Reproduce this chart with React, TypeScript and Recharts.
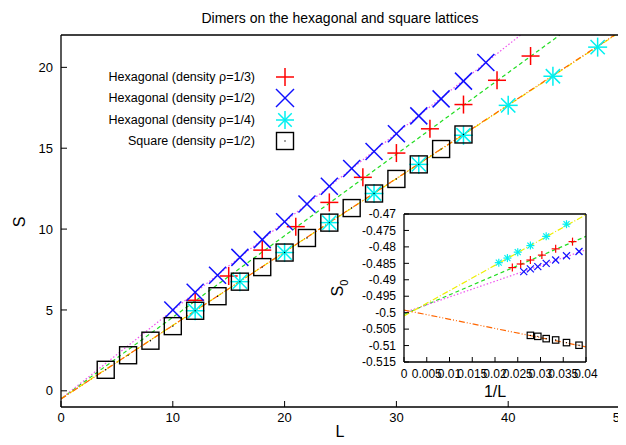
import React from 'react';
import { ComposedChart, Scatter, Line, XAxis, YAxis, Legend } from 'recharts';

const FONT = '"Liberation Sans", Arial, Helvetica, sans-serif';

// ---------- main plot data (L, S) ----------
const hexThirdL = [12, 15, 18, 21, 24, 27, 30, 33, 36, 39, 42];
const hexThirdS = [5.6, 7.1, 8.7, 10.15, 11.65, 13.2, 14.7, 16.2, 17.7, 19.2, 20.7];
const hexHalfL = [10, 12, 14, 16, 18, 20, 22, 24, 26, 28, 30, 32, 34, 36, 38];
const hexHalfS = [5.0, 6.1, 7.15, 8.25, 9.35, 10.45, 11.55, 12.65, 13.75, 14.8, 15.9, 17.0, 18.05, 19.15, 20.3];
const hexQuarterL = [12, 16, 20, 24, 28, 32, 36, 40, 44, 48];
const hexQuarterS = [4.95, 6.75, 8.55, 10.4, 12.2, 14.0, 15.8, 17.65, 19.45, 21.25];
const squareL = [4, 6, 8, 10, 12, 14, 16, 18, 20, 22, 24, 26, 28, 30, 32, 34, 36];
const squareS = [1.3, 2.2, 3.1, 4.0, 4.95, 5.85, 6.75, 7.65, 8.55, 9.45, 10.4, 11.3, 12.2, 13.1, 14.0, 14.95, 15.85];

// ---------- inset data (L, S0), plotted against 1/L ----------
const insetQuarterL = [48, 44, 40, 36, 32, 28];
const insetQuarterS0 = [-0.4848, -0.4834, -0.4816, -0.4796, -0.4768, -0.4731];
const insetThirdL = [42, 39, 36, 33, 30, 27];
const insetThirdS0 = [-0.4863, -0.4852, -0.484, -0.4825, -0.4806, -0.4784];
const insetHalfL = [38, 36, 34, 32, 30, 28, 26];
const insetHalfS0 = [-0.4875, -0.4867, -0.486, -0.485, -0.484, -0.4827, -0.4814];
const insetSquareL = [36, 34, 32, 30, 28, 26];
const insetSquareS0 = [-0.5069, -0.5072, -0.5079, -0.5083, -0.5091, -0.5099];

// ---------- fits: order = [hex 1/3, hex 1/2, hex 1/4, square] ----------
const mainFitSlope = [0.504, 0.547, 0.4535, 0.4545];
const mainFitIntercept = [-0.49, -0.49, -0.49, -0.505];
const insetFitSlope = [0.5925, 0.4775, 0.77, -0.28];
const insetFitIntercept = [-0.5005, -0.5, -0.501, -0.4992];
const fitColors = ['#22dd22', '#ee55ee', '#eeee00', '#ff6600'];
const fitDashes = ['4 3', '1.5 2', '6 2 1 2', '6 2 1 2 1 2'];

// ---------- axes ----------
const mainXDomain = [0, 50];
const mainYDomain = [-1, 22];
const mainXTicks = [0, 10, 20, 30, 40, 50];
const mainYTicks = [0, 5, 10, 15, 20];
const insetXDomain = [0, 0.04];
const insetYDomain = [-0.515, -0.47];
const insetXTicks = [0, 0.005, 0.01, 0.015, 0.02, 0.025, 0.03, 0.035, 0.04];
const insetYTicks = [-0.515, -0.51, -0.505, -0.5, -0.495, -0.49, -0.485, -0.48, -0.475, -0.47];

const legendLabels = [
  'Hexagonal (density \u03c1=1/3)',
  'Hexagonal (density \u03c1=1/2)',
  'Hexagonal (density \u03c1=1/4)',
  'Square (density \u03c1=1/2)',
];

const pts = (xs: number[], ys: number[]) => xs.map((x, i) => ({ x, y: ys[i] }));
const invPts = (Ls: number[], ys: number[]) => Ls.map((L, i) => ({ x: 1 / L, y: ys[i] }));

const mainFitData = mainFitSlope.map((a, i) => {
  const b = mainFitIntercept[i];
  const xEnd = Math.min(mainXDomain[1], (mainYDomain[1] - b) / a);
  return [{ x: 0, y: b }, { x: xEnd, y: a * xEnd + b }];
});
const insetFitData = insetFitSlope.map((a, i) => {
  const b = insetFitIntercept[i];
  return insetXDomain.map((x) => ({ x, y: a * x + b }));
});

// ---------- markers ----------
const Plus = ({ cx, cy, r, color, w = 1.5 }: any) => (
  <g>
    <line x1={cx - r} y1={cy} x2={cx + r} y2={cy} stroke={color} strokeWidth={w} />
    <line x1={cx} y1={cy - r} x2={cx} y2={cy + r} stroke={color} strokeWidth={w} />
  </g>
);
const Cross = ({ cx, cy, r, color, w = 1.5 }: any) => (
  <g>
    <line x1={cx - r} y1={cy - r} x2={cx + r} y2={cy + r} stroke={color} strokeWidth={w} />
    <line x1={cx - r} y1={cy + r} x2={cx + r} y2={cy - r} stroke={color} strokeWidth={w} />
  </g>
);
const Star = ({ cx, cy, r, color, w = 1.5 }: any) => (
  <g>
    <Plus cx={cx} cy={cy} r={r} color={color} w={w} />
    <Cross cx={cx} cy={cy} r={r * 0.75} color={color} w={w} />
  </g>
);
const Box = ({ cx, cy, r, w = 1.4 }: any) => (
  <g>
    <rect x={cx - r} y={cy - r} width={2 * r} height={2 * r} fill="none" stroke="#000" strokeWidth={w} />
    <circle cx={cx} cy={cy} r={0.7} fill="#000" />
  </g>
);

const markerFns = [
  (cx: number, cy: number, r: number, w?: number) => <Plus cx={cx} cy={cy} r={r} color="#ff0000" w={w} />,
  (cx: number, cy: number, r: number, w?: number) => <Cross cx={cx} cy={cy} r={r} color="#1010ff" w={w} />,
  (cx: number, cy: number, r: number, w?: number) => <Star cx={cx} cy={cy} r={r} color="#00f0f0" w={w} />,
  (cx: number, cy: number, r: number, w?: number) => <Box cx={cx} cy={cy} r={r} w={w} />,
];

const LegendBox = () => (
  <div style={{ fontFamily: FONT, fontSize: 12.5, color: '#000' }}>
    {legendLabels.map((lab, i) => (
      <div key={i} style={{ display: 'flex', alignItems: 'center', height: 21.5 }}>
        <div style={{ width: 167, textAlign: 'right', whiteSpace: 'nowrap' }}>{lab}</div>
        <div style={{ width: 60, display: 'flex', justifyContent: 'center' }}>
          <svg width={24} height={22} style={{ display: 'block' }}>
            {markerFns[i](12, 11, i === 3 ? 8.5 : 9)}
          </svg>
        </div>
      </div>
    ))}
  </div>
);

const tickStyle = { fontFamily: FONT, fontSize: 13, fill: '#000' };
const insetTickStyle = { fontFamily: FONT, fontSize: 12, fill: '#000' };
const fmt = (v: number) => String(Number(v.toFixed(3)));

const mainSeries = [
  pts(hexThirdL, hexThirdS),
  pts(hexHalfL, hexHalfS),
  pts(hexQuarterL, hexQuarterS),
  pts(squareL, squareS),
];
const mainSizes = [9, 8.5, 9.5, 8.5];
const insetSeries = [
  invPts(insetThirdL, insetThirdS0),
  invPts(insetHalfL, insetHalfS0),
  invPts(insetQuarterL, insetQuarterS0),
  invPts(insetSquareL, insetSquareS0),
];
const insetSizes = [4, 3.5, 4, 3.2];

const abs = (left: number, top: number, extra: any = {}) => ({
  position: 'absolute' as const,
  left,
  top,
  fontFamily: FONT,
  color: '#000',
  whiteSpace: 'nowrap' as const,
  lineHeight: 1,
  ...extra,
});

const frameLine = { stroke: '#000', strokeWidth: 1.3 };
const tickLine = { stroke: '#000' };

export default function App() {
  return (
    <div style={{ position: 'relative', width: 618, height: 437 }}>
      <ComposedChart width={618} height={437} margin={{ top: 26, right: 5, bottom: 0, left: 0 }}>
        <XAxis
          type="number"
          dataKey="x"
          domain={mainXDomain}
          ticks={mainXTicks}
          interval={0}
          height={38}
          tickSize={-6}
          tickMargin={12}
          tick={tickStyle}
          axisLine={frameLine}
          tickLine={tickLine}
          allowDataOverflow
        />
        <XAxis
          xAxisId="top"
          orientation="top"
          type="number"
          dataKey="x"
          domain={mainXDomain}
          ticks={mainXTicks}
          interval={0}
          height={1}
          tickSize={-6}
          tick={false}
          axisLine={frameLine}
          tickLine={tickLine}
          allowDataOverflow
        />
        <YAxis
          type="number"
          dataKey="y"
          domain={mainYDomain}
          ticks={mainYTicks}
          interval={0}
          width={53}
          tickSize={-6}
          tickMargin={14}
          tick={tickStyle}
          axisLine={frameLine}
          tickLine={tickLine}
          allowDataOverflow
        />
        <YAxis
          yAxisId="right"
          orientation="right"
          type="number"
          dataKey="y"
          domain={mainYDomain}
          ticks={mainYTicks}
          interval={0}
          width={1}
          tickSize={-6}
          tick={false}
          axisLine={frameLine}
          tickLine={tickLine}
          allowDataOverflow
        />
        {mainSeries.map((d, i) => (
          <Scatter
            key={'s' + i}
            data={d}
            dataKey="y"
            isAnimationActive={false}
            shape={(p: any) => markerFns[i](p.cx, p.cy, mainSizes[i])}
          />
        ))}
        {mainFitData.map((d, i) => (
          <Line
            key={'l' + i}
            data={d}
            dataKey="y"
            type="linear"
            stroke={fitColors[i]}
            strokeWidth={1.2}
            strokeDasharray={fitDashes[i]}
            dot={false}
            activeDot={false}
            isAnimationActive={false}
          />
        ))}
        <Line
          xAxisId="top"
          yAxisId="right"
          data={mainFitData[0]}
          dataKey="y"
          stroke="none"
          dot={false}
          activeDot={false}
          legendType="none"
          isAnimationActive={false}
        />
        <Legend
          layout="vertical"
          align="center"
          verticalAlign="middle"
          wrapperStyle={{ left: 80, top: 58, width: 230 }}
          content={() => <LegendBox />}
        />
      </ComposedChart>

      <div style={{ position: 'absolute', left: 314, top: 197 }}>
        <ComposedChart width={282} height={187} margin={{ top: 8, right: 17, bottom: 0, left: 0 }}>
          <XAxis
            type="number"
            dataKey="x"
            domain={insetXDomain}
            ticks={insetXTicks}
            interval={0}
            height={30}
            tickSize={-5}
            tickMargin={12}
            tick={insetTickStyle}
            tickFormatter={fmt}
            axisLine={frameLine}
            tickLine={tickLine}
            allowDataOverflow
          />
          <XAxis
            xAxisId="top"
            orientation="top"
            type="number"
            dataKey="x"
            domain={insetXDomain}
            ticks={insetXTicks}
            interval={0}
            height={1}
            tickSize={-5}
            tick={false}
            axisLine={frameLine}
            tickLine={tickLine}
            allowDataOverflow
          />
          <YAxis
            type="number"
            dataKey="y"
            domain={insetYDomain}
            ticks={insetYTicks}
            interval={0}
            width={82}
            tickSize={-5}
            tickMargin={13}
            tick={insetTickStyle}
            tickFormatter={fmt}
            axisLine={frameLine}
            tickLine={tickLine}
            allowDataOverflow
          />
          <YAxis
            yAxisId="right"
            orientation="right"
            type="number"
            dataKey="y"
            domain={insetYDomain}
            ticks={insetYTicks}
            interval={0}
            width={1}
            tickSize={-5}
            tick={false}
            axisLine={frameLine}
            tickLine={tickLine}
            allowDataOverflow
          />
          {insetSeries.map((d, i) => (
            <Scatter
              key={'is' + i}
              data={d}
              dataKey="y"
              isAnimationActive={false}
              shape={(p: any) => markerFns[i](p.cx, p.cy, insetSizes[i], 1.2)}
            />
          ))}
          {insetFitData.map((d, i) => (
            <Line
              key={'il' + i}
              data={d}
              dataKey="y"
              type="linear"
              stroke={fitColors[i]}
              strokeWidth={1.2}
              strokeDasharray={fitDashes[i]}
              dot={false}
              activeDot={false}
              isAnimationActive={false}
            />
          ))}
          <Line
            xAxisId="top"
            yAxisId="right"
            data={insetFitData[0]}
            dataKey="y"
            stroke="none"
            dot={false}
            activeDot={false}
            legendType="none"
            isAnimationActive={false}
          />
        </ComposedChart>
      </div>

      <div style={abs(332, 10, { fontSize: 14, transform: 'translate(-50%, -50%)' })}>
        Dimers on the hexagonal and square lattices
      </div>
      <div style={abs(332, 424, { fontSize: 16, transform: 'translate(-50%, -50%)' })}>L</div>
      <div style={abs(12, 214, { fontSize: 16, transform: 'translate(-50%, -50%) rotate(-90deg)' })}>S</div>
      <div style={abs(487, 384, { fontSize: 16, transform: 'translate(-50%, -50%)' })}>1/L</div>
      <div style={abs(332, 280, { fontSize: 16, transform: 'translate(-50%, -50%) rotate(-90deg)' })}>
        S<sub style={{ fontSize: 11 }}>0</sub>
      </div>
    </div>
  );
}
